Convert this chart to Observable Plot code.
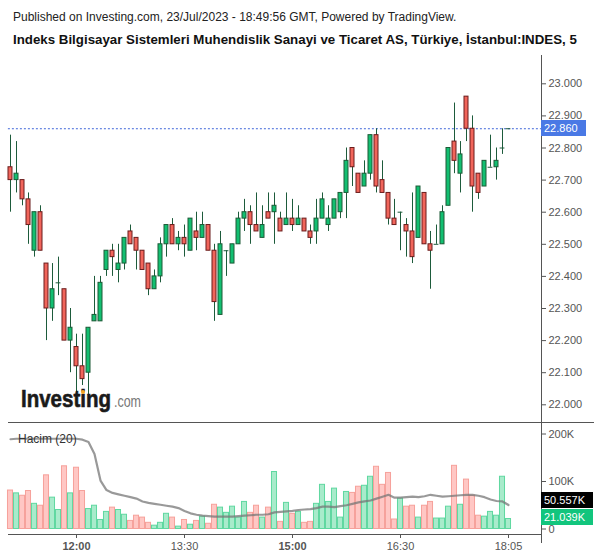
<!DOCTYPE html>
<html><head><meta charset="utf-8">
<script src="https://cdn.jsdelivr.net/npm/d3@7"></script>
<script src="https://cdn.jsdelivr.net/npm/@observablehq/plot@0.6"></script>
<style>
body{margin:0;background:#fff;}
#root{position:relative;width:600px;height:558px;font-family:"Liberation Sans",Arial,sans-serif;overflow:hidden;background:#fff;}
.abs{position:absolute;}
.hdr{left:13px;font-size:12px;line-height:14px;color:#222;white-space:nowrap;}
.hline{position:absolute;height:1px;background:#555;}
.vline{position:absolute;width:1px;background:#555;}
.tag{position:absolute;font-size:11px;line-height:16px;height:16px;color:#fff;padding-left:3px;box-sizing:border-box;white-space:nowrap;}
</style></head>
<body><div id="root">
<div class="abs hdr" style="top:10px;">Published on Investing.com, 23/Jul/2023 - 18:49:56 GMT, Powered by TradingView.</div>
<div class="abs hdr" style="top:32px;font-size:13.3px;line-height:16px;font-weight:bold;color:#111;">Indeks Bilgisayar Sistemleri Muhendislik Sanayi ve Ticaret AS, Türkiye, İstanbul:INDES, 5</div>
<div id="price" class="abs" style="left:0;top:50px;"></div>
<div id="vol" class="abs" style="left:0;top:422px;"></div>
<div class="hline" style="left:8px;width:586px;top:422px;"></div>
<div class="hline" style="left:8px;width:533px;top:534px;"></div>
<div class="vline" style="left:541px;top:55px;height:488px;"></div>
<div class="abs" style="left:18px;top:432px;font-size:12px;line-height:14px;color:#333;">Hacim (20)</div>
<svg class="abs" style="left:18px;top:386px;overflow:visible;" width="140" height="26">
  <text x="3" y="21" font-family="Liberation Sans, Arial, sans-serif" font-weight="bold" font-size="24" fill="#1a1a1a" stroke="#1a1a1a" stroke-width="0.6" textLength="90" lengthAdjust="spacingAndGlyphs">Investing</text>
  <circle cx="65" cy="6" r="2" fill="#f5a623"></circle>
  <text x="96" y="21" font-family="Liberation Sans, Arial, sans-serif" font-size="16" fill="#777" textLength="27" lengthAdjust="spacingAndGlyphs">.com</text>
</svg>
</div>
<script>
// ---- data ----
const open  = [22.74,22.70,22.70,22.64,22.48,22.60,22.44,22.30,22.38,22.36,22.20,22.18,22.12,22.10,22.26,22.26,22.42,22.48,22.42,22.44,22.54,22.52,22.48,22.44,22.36,22.40,22.50,22.56,22.50,22.52,22.48,22.54,22.52,22.56,22.48,22.28,22.48,22.44,22.50,22.58,22.60,22.56,22.52,22.60,22.60,22.58,22.56,22.58,22.56,22.58,22.54,22.54,22.58,22.56,22.58,22.60,22.66,22.80,22.72,22.68,22.72,22.84,22.70,22.66,22.58,22.60,22.56,22.54,22.52,22.66,22.50,22.50,22.50,22.62,22.82,22.72,22.96,22.86,22.72,22.68,22.74,22.74,22.80,22.86];
const high  = [22.84,22.82,22.70,22.66,22.60,22.62,22.44,22.44,22.46,22.36,22.30,22.22,22.22,22.24,22.40,22.40,22.48,22.50,22.50,22.52,22.56,22.52,22.48,22.44,22.42,22.52,22.56,22.58,22.54,22.56,22.58,22.60,22.60,22.56,22.50,22.54,22.48,22.50,22.60,22.64,22.62,22.66,22.62,22.66,22.66,22.60,22.66,22.64,22.62,22.58,22.56,22.64,22.66,22.62,22.64,22.66,22.80,22.80,22.72,22.76,22.84,22.86,22.76,22.66,22.64,22.60,22.58,22.66,22.68,22.66,22.54,22.56,22.62,22.80,22.94,22.82,22.96,22.90,22.72,22.76,22.84,22.80,22.86,22.86];
const low   = [22.60,22.66,22.62,22.50,22.46,22.48,22.20,22.26,22.34,22.20,22.10,22.03,22.06,22.02,22.26,22.26,22.40,22.40,22.38,22.42,22.50,22.42,22.42,22.34,22.36,22.38,22.46,22.50,22.48,22.46,22.48,22.48,22.52,22.48,22.26,22.28,22.40,22.44,22.50,22.54,22.50,22.54,22.52,22.58,22.50,22.54,22.56,22.54,22.56,22.54,22.50,22.50,22.58,22.54,22.58,22.58,22.58,22.68,22.66,22.68,22.70,22.66,22.66,22.56,22.56,22.48,22.46,22.44,22.52,22.50,22.36,22.50,22.50,22.62,22.72,22.66,22.82,22.60,22.64,22.68,22.74,22.70,22.78,22.86];
const close = [22.70,22.72,22.64,22.56,22.60,22.48,22.30,22.36,22.38,22.20,22.24,22.12,22.08,22.24,22.28,22.38,22.48,22.46,22.44,22.52,22.50,22.48,22.42,22.36,22.40,22.50,22.56,22.50,22.52,22.50,22.58,22.52,22.56,22.48,22.32,22.50,22.48,22.50,22.58,22.60,22.56,22.54,22.56,22.58,22.62,22.54,22.58,22.56,22.58,22.54,22.52,22.58,22.64,22.58,22.64,22.66,22.76,22.74,22.66,22.72,22.84,22.68,22.66,22.58,22.56,22.60,22.54,22.46,22.68,22.50,22.48,22.50,22.60,22.80,22.76,22.78,22.86,22.68,22.66,22.76,22.74,22.76,22.80,22.86];
// volume in thousands
const volumeK = [81,75,70,80,53,49,113,66,40,132,75,129,80,42,49,19,36,45,40,30,17,28,24,13,7,13,32,24,5,19,9,17,26,11,51,45,34,47,24,57,34,49,24,45,120,15,55,32,36,13,15,53,93,57,85,24,78,76,89,91,110,131,93,118,20,64,47,49,24,49,57,22,22,47,133,51,104,70,28,26,36,28,110,21.039];
// 20-period volume moving average, thousands
const volMAK = [189,190,190,190,190,190,190,190,190,190,190,190,188,183,158,102,82,76,73,70,67,64,58,55,53,51,49,47,44,38,33,30,28,27,26,26,26,26,27,28,29,30,30,31,35,36,37,38,40,41,42,44,47,47,46,48,50,53,56,58,60,64,68,72,66,66,67,68,67,69,72,70,68,69,70,71,72,72,70,67,62,59,58,50.557];
const priceTicks = [22.0,22.1,22.2,22.3,22.4,22.5,22.6,22.7,22.8,22.9,23.0];
const volTicks = [0,100000,200000];
const volTickLabels = ["0","100K","200K"];
const timeTickIdx = [11,29,47,65,83];
const timeLabels = ["12:00","13:30","15:00","16:30","18:05"];
const boldTimes = ["12:00","15:00"];

// ---- styling ----
const UP = "#12bf71", UPB = "#1c5a36", DN = "#f1655b", DNB = "#6b1c1c", WICK = "#1d5b3b";
const VUP = "#a8ebcb", VUPB = "#5fd8a0", VDN = "#ffc7c4", VDNB = "#f6a19b";
const X_MAX = 88.5;
const font = '"Liberation Sans", Arial, sans-serif';

const candles = d3.range(open.length).map(i => ({
  i, open: open[i], high: high[i], low: low[i], close: close[i],
  up: close[i] >= open[i], vol: volumeK[i] * 1000, ma: volMAK[i] * 1000
}));
const bodies = candles.filter(d => d.open !== d.close);
const dojis = candles.filter(d => d.open === d.close);
const lastPrice = close[close.length - 1];

const priceYRange = [354.3, 33.3];
const pricePlot = Plot.plot({
  width: 600, height: 372,
  marginLeft: 10, marginRight: 59, marginTop: 0, marginBottom: 0,
  style: {fontFamily: font, fontSize: "11px", color: "#555", background: "transparent", overflow: "visible"},
  x: {domain: [0, X_MAX], axis: null},
  y: {domain: [22, 23], range: priceYRange, axis: "right", ticks: priceTicks, tickFormat: d3.format(".3f"), tickSize: 4, tickPadding: 3, label: null},
  marks: [
    Plot.ruleY([lastPrice], {x1: -0.35, x2: X_MAX, stroke: "#3f66d9", strokeDasharray: "2,2"}),
    Plot.ruleX(candles, {x: "i", y1: "low", y2: "high", stroke: WICK}),
    Plot.rect(bodies, {x1: d => d.i - 1/3, x2: d => d.i + 1/3, y1: "open", y2: "close",
      fill: d => d.up ? UP : DN, stroke: d => d.up ? UPB : DNB}),
    Plot.ruleY(dojis, {y: "open", x1: d => d.i - 0.4, x2: d => d.i + 0.4, stroke: WICK})
  ]
});
document.getElementById("price").appendChild(pricePlot);

const volYRange = [106.5, 11.5];
const volPlot = Plot.plot({
  width: 600, height: 136,
  marginLeft: 10, marginRight: 59, marginTop: 0, marginBottom: 24,
  style: {fontFamily: font, fontSize: "11px", color: "#555", background: "transparent", overflow: "visible"},
  x: {domain: [0, X_MAX], ticks: timeTickIdx, tickFormat: d => timeLabels[timeTickIdx.indexOf(d)], tickSize: 4, tickPadding: 4, label: null},
  y: {domain: [0, 200000], range: volYRange, axis: "right", ticks: volTicks, tickFormat: d => volTickLabels[volTicks.indexOf(d)], tickSize: 4, tickPadding: 3, label: null},
  marks: [
    Plot.rect(candles, {x1: d => d.i - 0.42, x2: d => d.i + 0.42, y1: 0, y2: "vol",
      fill: d => d.up ? VUP : VDN, stroke: d => d.up ? VUPB : VDNB}),
    Plot.line(candles, {x: "i", y: "ma", stroke: "#777", strokeOpacity: 0.75, strokeWidth: 2.2})
  ]
});
document.getElementById("vol").appendChild(volPlot);
d3.select(volPlot).selectAll("text").filter(function(){ return boldTimes.includes(this.textContent); }).attr("font-weight", "bold");

// ---- value tags on the right axis ----
const root = document.getElementById("root");
const py = d3.scaleLinear([22, 23], priceYRange);
const vy = d3.scaleLinear([0, 200000], volYRange);
function tag(text, yCenter, bg, width) {
  const el = document.createElement("div");
  el.className = "tag";
  el.textContent = text;
  el.style.left = "541px";
  el.style.width = width + "px";
  el.style.top = (yCenter - 8) + "px";
  el.style.background = bg;
  root.appendChild(el);
}
tag(d3.format(".3f")(lastPrice), 50 + py(lastPrice), "#4a79e5", 45);
const lastVol = volumeK[volumeK.length - 1], lastMA = volMAK[volMAK.length - 1];
const gY = Math.min(422 + vy(lastVol * 1000), 517);
let mY = 422 + vy(lastMA * 1000);
if (mY > gY - 17) mY = gY - 17;
tag(lastVol.toFixed(3) + "K", gY, "#12c57d", 52);
tag(lastMA.toFixed(3) + "K", mY, "#000", 52);
</script>
</body></html>
